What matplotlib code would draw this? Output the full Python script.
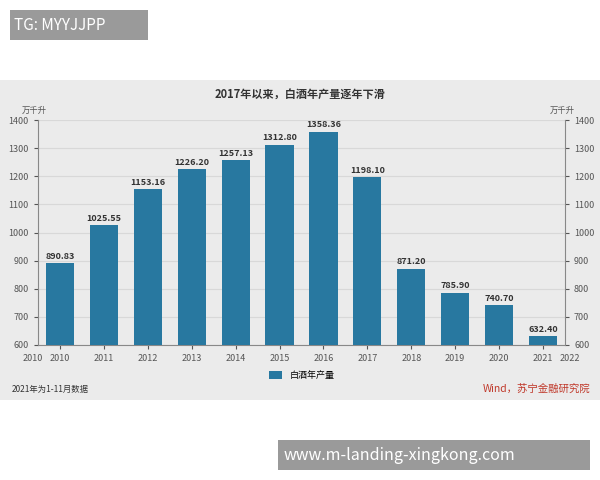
import matplotlib
matplotlib.use("Agg")
import matplotlib.pyplot as plt
from matplotlib.patches import Rectangle

plt.rcParams['font.family'] = ['Noto Sans CJK SC', 'DejaVu Sans']

years = ['2010', '2011', '2012', '2013', '2014', '2015', '2016', '2017', '2018', '2019', '2020', '2021']
values = [890.83, 1025.55, 1153.16, 1226.20, 1257.13, 1312.80, 1358.36, 1198.10, 871.20, 785.90, 740.70, 632.40]
yticks = [600, 700, 800, 900, 1000, 1100, 1200, 1300, 1400]
bar_color = '#2878a0'

fig = plt.figure(figsize=(6, 4.8), dpi=100)
fig.patch.set_facecolor('white')
fig.patches.append(Rectangle((0, 1 - 400/480), 1, 320/480, transform=fig.transFigure,
                             facecolor='#ebebeb', edgecolor='none', zorder=-5))
fig.patches.append(Rectangle((10/600, 1 - 40/480), 138/600, 30/480, transform=fig.transFigure,
                             facecolor='#9a9a9a', edgecolor='none', zorder=-5))
fig.text(14/600, 1 - 25/480, 'TG: MYYJJPP', color='white', fontsize=11, va='center', ha='left')
fig.patches.append(Rectangle((278/600, 1 - 470/480), 312/600, 30/480, transform=fig.transFigure,
                             facecolor='#9a9a9a', edgecolor='none', zorder=-5))
fig.text(284/600, 1 - 455/480, 'www.m-landing-xingkong.com', color='white', fontsize=11.5, va='center', ha='left')

ax = fig.add_axes([38/600, 1 - 345/480, 527/600, 225/480])
ax.set_zorder(2)
ax.set_facecolor('#ebebeb')
x = list(range(len(years)))
ax.bar(x, values, width=0.64, color=bar_color, zorder=3, label='白酒年产量')
for xi, v in zip(x, values):
    ax.text(xi, v + 8, f'{v:.2f}', ha='center', va='bottom', fontsize=6.5, fontweight='bold', color='#333333', zorder=4)
ax.set_ylim(600, 1400)
ax.set_xlim(-0.5, len(years) - 0.5)
ax.set_yticks(yticks)
ax.tick_params(axis='y', labelsize=6.5, colors='#555555', length=3)
ax.set_xticks(x)
ax.set_xticklabels(years, fontsize=6.5, color='#555555')
ax.tick_params(axis='x', length=3, colors='#555555')
ax.grid(axis='y', color='#d8d8d8', linewidth=0.8, zorder=0)
ax.spines['top'].set_visible(False)
ax.spines['right'].set_visible(False)
for s in ['left', 'bottom']:
    ax.spines[s].set_color('#888888')
for xe, lab in [(-0.62, '2010'), (len(years) - 0.38, '2022')]:
    ax.annotate(lab, xy=(xe, 600), xytext=(0, -6.5), textcoords='offset points',
                ha='center', va='top', fontsize=6.5, color='#555555', annotation_clip=False)

ax2 = ax.twinx()
ax2.set_zorder(3)
ax2.patch.set_visible(False)
ax2.set_ylim(600, 1400)
ax2.set_yticks(yticks)
ax2.tick_params(axis='y', labelsize=6.5, colors='#555555', length=3)
for s in ['top', 'left', 'bottom']:
    ax2.spines[s].set_visible(False)
ax2.spines['right'].set_color('#888888')

fig.text(300/600, 1 - 94/480, '2017年以来，白酒年产量逐年下滑', ha='center', va='center', fontsize=8, fontweight='bold', color='#333333')
fig.text(22/600, 1 - 110/480, '万千升', fontsize=6, color='#555555', va='center')
fig.text(550/600, 1 - 110/480, '万千升', fontsize=6, color='#555555', va='center')
ax.legend(loc='upper center', bbox_to_anchor=(0.5, -0.08), frameon=False, fontsize=6.5,
          handlelength=1.5, handleheight=0.9)
fig.text(12/600, 1 - 389/480, '2021年为1-11月数据', fontsize=6, color='#333333', va='center')
fig.text(590/600, 1 - 389/480, 'Wind，苏宁金融研究院', fontsize=7.5, color='#c0392b', style='italic', va='center', ha='right')

fig.savefig('out.png', dpi=100, facecolor='white')
